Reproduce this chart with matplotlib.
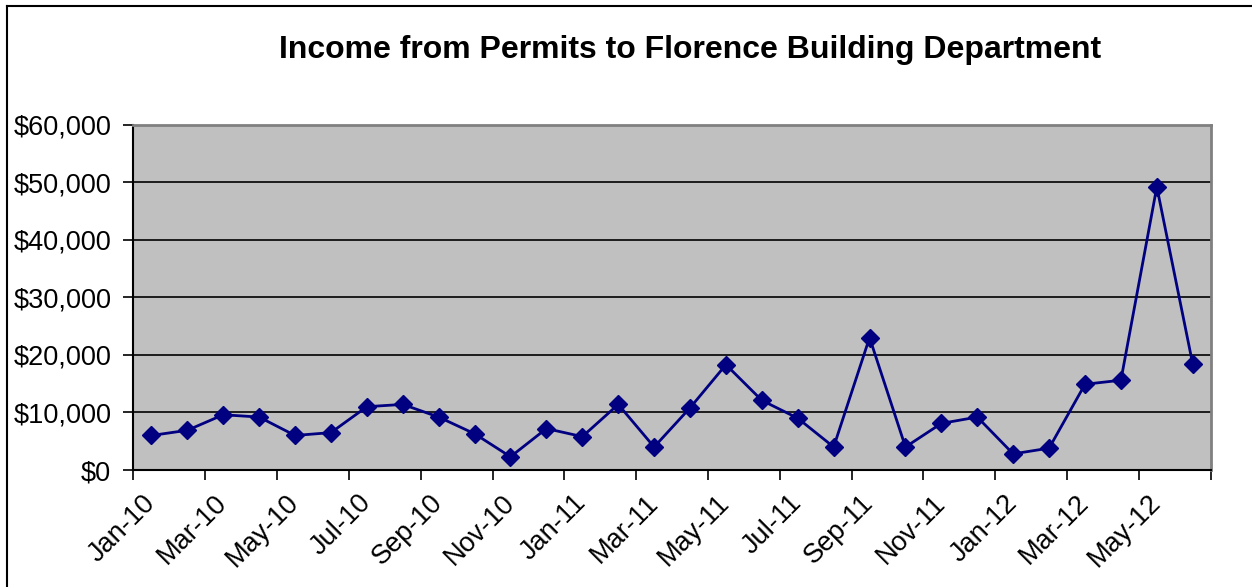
import matplotlib
matplotlib.use("Agg")
import matplotlib.pyplot as plt
import matplotlib.transforms as mtransforms
from matplotlib.lines import Line2D

plt.rcParams['font.family'] = ['Liberation Sans', 'DejaVu Sans']

months = ["Jan-10", "Feb-10", "Mar-10", "Apr-10", "May-10", "Jun-10",
          "Jul-10", "Aug-10", "Sep-10", "Oct-10", "Nov-10", "Dec-10",
          "Jan-11", "Feb-11", "Mar-11", "Apr-11", "May-11", "Jun-11",
          "Jul-11", "Aug-11", "Sep-11", "Oct-11", "Nov-11", "Dec-11",
          "Jan-12", "Feb-12", "Mar-12", "Apr-12", "May-12", "Jun-12"]
income = [6000, 6900, 9600, 9200, 6000, 6500,
          11000, 11400, 9200, 6300, 2300, 7200,
          5800, 11400, 4000, 10800, 18300, 12100,
          9000, 4000, 23000, 4000, 8100, 9200,
          2800, 3800, 14900, 15600, 49200, 18400]
y_ticks = [0, 10000, 20000, 30000, 40000, 50000, 60000]

fig = plt.figure(figsize=(12.52, 5.87), dpi=100)
ax = fig.add_axes([0.1066, 0.1993, 0.8604, 0.5883])

# chart border (only top and left visible in the crop)
fig.add_artist(Line2D([0.0056, 0.0056], [0, 0.9898], color='black', lw=1.5))
fig.add_artist(Line2D([0.0056, 1.0], [0.9898, 0.9898], color='black', lw=1.5))

ax.set_facecolor('#C0C0C0')
x = [i + 0.5 for i in range(len(income))]
ax.plot(x, income, color='#000080', lw=2, marker='D', markersize=9, zorder=3)

ax.set_xlim(0, len(income))
ax.set_ylim(0, 60000)
ax.set_yticks(y_ticks)
ax.set_yticklabels([f"${v:,}" for v in y_ticks], fontsize=19.5)
ax.yaxis.grid(True, color='black', lw=1.2)
ax.set_axisbelow(True)

ax.set_xticks(range(0, len(income) + 1, 2))
ax.set_xticklabels([])
ax.tick_params(axis='both', direction='out', length=7, width=1.2, color='black')
ax.tick_params(axis='y', pad=9)

offset = mtransforms.ScaledTranslation(0, -29 / 100, fig.dpi_scale_trans)
trans = mtransforms.blended_transform_factory(ax.transData, ax.transAxes) + offset
for i in range(0, len(months), 2):
    ax.text(i + 0.5, 0, months[i], transform=trans, rotation=45,
            rotation_mode='anchor', ha='right', va='center', fontsize=19.5)

for side in ['left', 'bottom']:
    ax.spines[side].set_color('black')
    ax.spines[side].set_linewidth(1.5)
for side in ['top', 'right']:
    ax.spines[side].set_color('#808080')
    ax.spines[side].set_linewidth(2)

fig.text(0.551, 1 - 50 / 587, "Income from Permits to Florence Building Department",
         ha='center', va='center', fontsize=23, fontweight='bold')

fig.savefig("out.png", dpi=100)
